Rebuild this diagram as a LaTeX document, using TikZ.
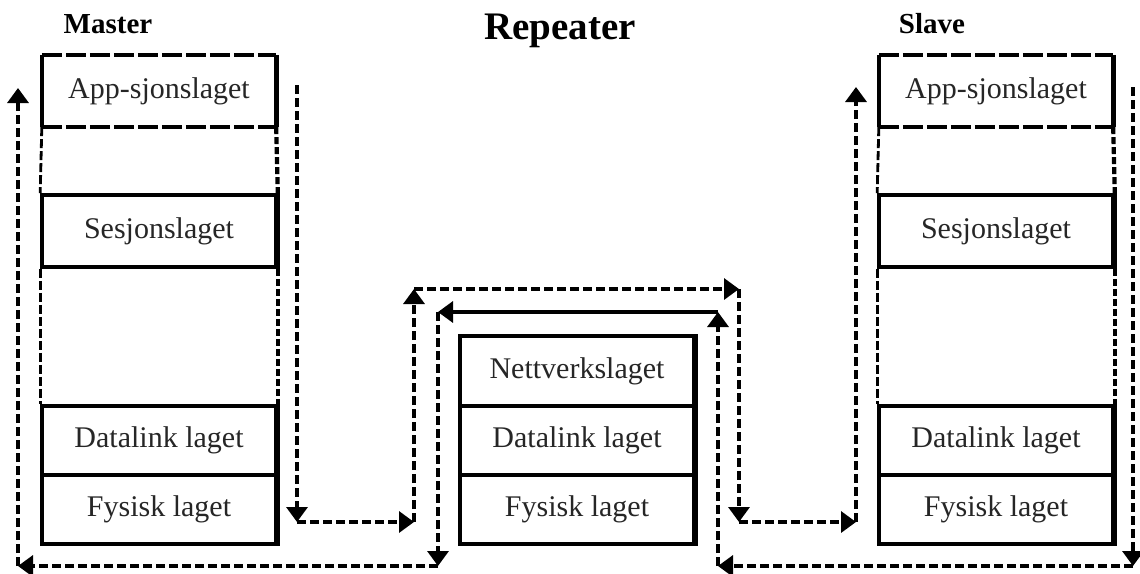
\documentclass[tikz,border=0pt]{standalone}
\usepackage{fontspec}
\setmainfont{Liberation Serif}
\usetikzlibrary{arrows.meta}
\begin{document}
\begin{tikzpicture}[x=1pt,y=-1pt,
  layer/.style={minimum width=234pt, inner sep=0pt, text=black!85,
    font=\fontsize{30}{36}\selectfont},
  solidbox/.style={layer, draw, line width=3.6pt},
  appbox/.style={layer, minimum height=72pt},
  title/.style={font=\fontsize{29}{34}\selectfont\bfseries},
  edgeside/.style={line width=3.6pt},
  edgedash/.style={line width=3.6pt, dash pattern=on 20pt off 4pt},
  joint/.style={line width=2.8pt, dash pattern=on 9pt off 3pt},
  jointthick/.style={line width=4.2pt, dash pattern=on 7pt off 3pt},
  tip/.style={-{Triangle[length=15pt,width=21pt]}},
  flow/.style={line width=3.4pt, dash pattern=on 9pt off 4pt, tip},
  flowsolid/.style={line width=3.4pt, tip}
]
\useasboundingbox (0,0) rectangle (1140,573);

% titles
\node[title] (tmaster) at (108,24) {Master};
\node[font=\fontsize{39}{44}\selectfont\bfseries] (trep) at (560,31) {Repeater};
\node[title] (tslave) at (932,24) {Slave};

% ---- Master stack ----
\node[appbox] (mapp) at (159,91) {App-sjonslaget};
\node[solidbox, minimum height=72pt] (mses) at (159,231) {Sesjonslaget};
\node[solidbox, minimum height=69pt] (mdl) at (159,440.5) {Datalink laget};
\node[solidbox, minimum height=69pt] (mfy) at (159,509.5) {Fysisk laget};

% ---- Repeater stack ----
\node[solidbox, minimum height=70pt] (rnet) at (577,371) {Nettverkslaget};
\node[solidbox, minimum height=69pt] (rdl) at (577,440.5) {Datalink laget};
\node[solidbox, minimum height=69pt] (rfy) at (577,509.5) {Fysisk laget};

% ---- Slave stack ----
\node[appbox] (sapp) at (996,91) {App-sjonslaget};
\node[solidbox, minimum height=72pt] (sses) at (996,231) {Sesjonslaget};
\node[solidbox, minimum height=69pt] (sdl) at (996,440.5) {Datalink laget};
\node[solidbox, minimum height=69pt] (sfy) at (996,509.5) {Fysisk laget};

% application boxes: solid sides, long-dashed top and bottom
\foreach \b in {mapp,sapp}{
  \draw[edgeside] (\b.north west) -- (\b.south west);
  \draw[edgeside] (\b.north east) -- (\b.south east);
  \draw[edgedash] (\b.north west) -- (\b.north east);
  \draw[edgedash] (\b.south west) -- (\b.south east);
}

% heavier right-hand edges
\foreach \t/\b in {mapp/mapp,mses/mses,mdl/mfy,rnet/rfy,sapp/sapp,sses/sses,sdl/sfy}{
  \draw[line width=5pt] (\t.north east) -- (\b.south east);
}

% dashed joints between layers
\foreach \u/\l in {mapp/mses,mses/mdl,sapp/sses,sses/sdl}{
  \draw[joint] (\u.south west) -- (\l.north west);
  \draw[jointthick] (\u.south east) -- (\l.north east);
}

% ---- forward path: Master -> Repeater -> Slave ----
\coordinate (f1) at (297,85);
\coordinate (f2) at (297,522);
\coordinate (f3) at (414,522);
\coordinate (f4) at (414,289);
\coordinate (f5) at (739,289);
\coordinate (f6) at (739,522);
\coordinate (f7) at (856,522);
\coordinate (f8) at (856,87);
\draw[flow] (f1) -- (f2);
\draw[flow] (f2) -- (f3);
\draw[flow] (f3) -- (f4);
\draw[flow] (f4) -- (f5);
\draw[flow] (f5) -- (f6);
\draw[flow] (f6) -- (f7);
\draw[flow] (f7) -- (f8);

% ---- return path: Slave -> Repeater -> Master ----
\coordinate (r1) at (1133,87);
\coordinate (r2) at (1133,566);
\coordinate (r3) at (718,566);
\coordinate (r4) at (718,312);
\coordinate (r5) at (438,312);
\coordinate (r6) at (438,566);
\coordinate (r7) at (18,566);
\coordinate (r8) at (18,88);
\draw[flow] (r1) -- (r2);
\draw[flow] (r2) -- (r3);
\draw[flow] (r3) -- (r4);
\draw[flowsolid] (r4) -- (r5);
\draw[flow] (r5) -- (r6);
\draw[flow] (r6) -- (r7);
\draw[flow] (r7) -- (r8);
\end{tikzpicture}
\end{document}
